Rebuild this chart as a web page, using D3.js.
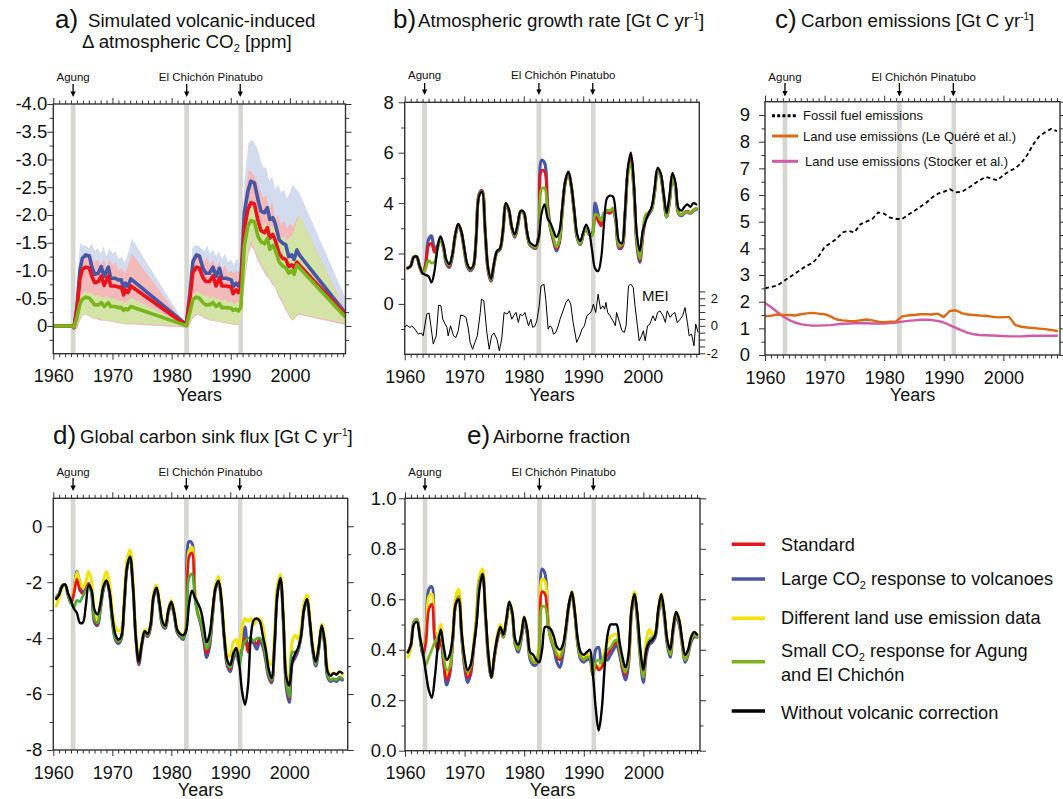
<!DOCTYPE html>
<html><head><meta charset="utf-8">
<script src="https://cdn.jsdelivr.net/npm/d3@7"></script>
<style>body{margin:0;background:#fff}</style>
</head><body>
<script>
// ---------------- DATA ----------------
const volcanoNames = ["Agung", "El Chichón", "Pinatubo"];
const volcanoArrow = [1963.35, 1982.55, 1991.6];
const volcanoBands = [[1962.95, 1963.75], [1982.15, 1982.95], [1991.3, 1992.05]];
const decadeTicks = [1960, 1970, 1980, 1990, 2000];

// panel a
const aYears = [1960,1963.4,1963.5,1964.0,1964.5,1964.9,1965.5,1966.1,1966.5,1967.0,1967.6,1968.1,1968.6,1969.3,1969.7,1970.4,1971.0,1971.5,1971.9,1972.2,1972.6,1973.1,1982.1,1982.5,1983.1,1983.6,1984.2,1984.7,1985.3,1985.8,1986.4,1987.0,1987.5,1988.1,1988.5,1989.2,1990.1,1990.4,1990.9,1991.3,1991.7,1992.3,1992.9,1993.4,1994.0,1994.6,1995.1,1995.7,1996.2,1996.6,1997.1,1997.5,1998.2,1998.8,1999.3,1999.8,2000.3,2000.7,2001.2,2001.6,2009.2];
const aLarge = [0,0,0.03,-0.35,-1.0,-1.22,-1.28,-1.26,-1.07,-0.93,-0.95,-1.07,-0.89,-1.06,-0.86,-0.86,-0.83,-0.83,-0.68,-0.77,-0.71,-0.85,-0.06,-0.04,-0.59,-1.16,-1.28,-1.26,-1.04,-0.95,-0.95,-1.06,-0.89,-1.04,-0.86,-0.86,-0.83,-0.71,-0.77,-0.72,-0.83,-2.04,-2.43,-2.61,-2.58,-2.28,-2.07,-2.04,-2.13,-1.92,-1.95,-1.85,-1.55,-1.49,-1.46,-1.25,-1.28,-1.2,-1.37,-1.28,-0.26];
const aStandard = [0,0,0.03,-0.3,-0.85,-1.02,-1.06,-1.04,-0.9,-0.78,-0.8,-0.9,-0.73,-0.9,-0.72,-0.72,-0.7,-0.7,-0.56,-0.65,-0.6,-0.72,-0.04,-0.03,-0.5,-0.97,-1.06,-1.04,-0.87,-0.8,-0.8,-0.9,-0.72,-0.87,-0.72,-0.72,-0.7,-0.58,-0.65,-0.6,-0.7,-1.75,-2.1,-2.22,-2.2,-1.9,-1.72,-1.68,-1.77,-1.58,-1.65,-1.55,-1.3,-1.22,-1.2,-1.07,-1.1,-1.05,-1.15,-1.1,-0.22];
const aSmall = [0,0,0.02,-0.15,-0.4,-0.48,-0.52,-0.5,-0.45,-0.38,-0.38,-0.42,-0.35,-0.42,-0.35,-0.35,-0.33,-0.33,-0.28,-0.31,-0.29,-0.35,-0.02,0,-0.25,-0.48,-0.52,-0.5,-0.42,-0.38,-0.38,-0.42,-0.35,-0.4,-0.33,-0.33,-0.32,-0.28,-0.3,-0.27,-0.33,-1.45,-1.8,-1.9,-1.88,-1.62,-1.52,-1.48,-1.58,-1.38,-1.45,-1.38,-1.15,-1.08,-1.05,-0.95,-1.0,-0.93,-1.1,-1.05,-0.18];
const aBandYears = [1960,1963.4,1964.0,1964.5,1965.0,1965.5,1966.0,1966.5,1967.0,1967.5,1968.0,1968.5,1969.0,1969.5,1970.0,1970.5,1971.0,1971.5,1972.0,1972.5,1973.3,1982.2,1982.5,1983.0,1983.5,1984.0,1984.5,1985.0,1985.5,1986.0,1986.5,1987.0,1987.5,1988.0,1988.5,1989.0,1989.5,1990.0,1990.5,1991.0,1991.6,1992.3,1993.0,1993.5,1994.0,1994.5,1995.0,1995.5,1996.0,1996.5,1997.0,1997.5,1998.0,1998.5,1999.0,1999.5,2000.0,2000.5,2001.2,2001.6,2009.4];
const aLargeHi = [0,0,-0.6,-1.5,-1.45,-1.45,-1.4,-1.48,-1.35,-1.4,-1.3,-1.43,-1.25,-1.4,-1.3,-1.35,-1.2,-1.25,-1.15,-1.25,-1.57,-0.05,-0.05,-0.7,-1.4,-1.45,-1.45,-1.4,-1.35,-1.45,-1.3,-1.38,-1.25,-1.35,-1.2,-1.3,-1.15,-1.2,-1.1,-1.2,-1.15,-2.6,-3.3,-3.35,-3.3,-3.2,-3.0,-2.85,-2.85,-2.6,-2.7,-2.45,-2.55,-2.4,-2.45,-2.3,-2.4,-2.55,-2.45,-2.4,-0.5];
const aStandardHi = [0,0,-0.5,-1.1,-1.25,-1.25,-1.2,-1.25,-1.15,-1.2,-1.1,-1.2,-1.05,-1.2,-1.1,-1.15,-1.0,-1.05,-0.95,-1.05,-1.3,-0.03,-0.03,-0.6,-1.2,-1.25,-1.25,-1.2,-1.15,-1.25,-1.1,-1.2,-1.05,-1.15,-1.0,-1.1,-0.95,-1.0,-0.95,-1.0,-0.95,-2.3,-2.8,-2.78,-2.7,-2.6,-2.45,-2.3,-2.35,-2.1,-2.25,-1.95,-2.0,-1.8,-1.9,-1.75,-1.85,-1.8,-1.95,-2.0,-0.28];
const aStandardLo = [0.02,0.02,0.06,-0.1,-0.2,-0.2,-0.18,-0.15,-0.12,-0.12,-0.1,-0.1,-0.1,-0.08,-0.08,-0.06,-0.05,-0.05,-0.03,-0.03,-0.03,0.03,0.05,0.0,-0.12,-0.18,-0.2,-0.18,-0.14,-0.12,-0.1,-0.1,-0.08,-0.08,-0.06,-0.06,-0.04,-0.04,-0.02,-0.02,-0.01,-0.75,-1.3,-1.45,-1.35,-1.2,-1.1,-1.0,-0.9,-0.85,-0.75,-0.7,-0.55,-0.45,-0.35,-0.25,-0.15,-0.1,-0.18,-0.2,-0.02];
const aSmallHi = [0,0,-0.25,-0.5,-0.6,-0.62,-0.6,-0.6,-0.55,-0.55,-0.55,-0.5,-0.55,-0.5,-0.5,-0.48,-0.45,-0.45,-0.42,-0.45,-0.5,-0.02,-0.02,-0.3,-0.55,-0.6,-0.62,-0.58,-0.55,-0.55,-0.5,-0.55,-0.48,-0.5,-0.45,-0.48,-0.42,-0.45,-0.4,-0.42,-0.45,-1.7,-2.05,-2.15,-2.1,-1.95,-1.85,-1.8,-1.85,-1.75,-1.8,-1.7,-1.65,-1.6,-1.6,-1.55,-1.6,-1.65,-1.9,-2.0,-0.25];
const aSmallLo = [0.02,0.02,-0.05,-0.15,-0.22,-0.2,-0.2,-0.15,-0.12,-0.15,-0.12,-0.1,-0.12,-0.08,-0.1,-0.08,-0.05,-0.07,-0.03,-0.05,-0.05,0.0,0.02,-0.05,-0.15,-0.2,-0.22,-0.2,-0.15,-0.15,-0.1,-0.12,-0.08,-0.1,-0.06,-0.08,-0.04,-0.06,-0.02,-0.05,-0.02,-0.8,-1.4,-1.55,-1.4,-1.25,-1.15,-1.05,-0.95,-0.88,-0.8,-0.72,-0.6,-0.5,-0.38,-0.28,-0.17,-0.12,-0.2,-0.22,-0.05];

// half-year grid for panels b, d, e
const gridYears = [1960.5,1961,1961.5,1962,1962.5,1963,1963.5,1964,1964.5,1965,
1965.5,1966,1966.5,1967,1967.5,1968,1968.5,1969,1969.5,1970,
1970.5,1971,1971.5,1972,1972.5,1973,1973.5,1974,1974.5,1975,
1975.5,1976,1976.5,1977,1977.5,1978,1978.5,1979,1979.5,1980,
1980.5,1981,1981.5,1982,1982.5,1983,1983.5,1984,1984.5,1985,
1985.5,1986,1986.5,1987,1987.5,1988,1988.5,1989,1989.5,1990,
1990.5,1991,1991.5,1992,1992.5,1993,1993.5,1994,1994.5,1995,
1995.5,1996,1996.5,1997,1997.5,1998,1998.5,1999,1999.5,2000,
2000.5,2001,2001.5,2002,2002.5,2003,2003.5,2004,2004.5,2005,
2005.5,2006,2006.5,2007,2007.5,2008,2008.5,2009];

// panel b: atmospheric growth rate
const growthNoCorr = [1.42,1.50,1.85,1.88,1.50,1.22,1.15,1.10,0.85,1.30,
2.20,2.68,2.35,1.75,1.58,1.95,2.75,3.18,2.90,2.25,
1.60,1.40,1.50,2.60,4.28,4.45,3.00,1.45,1.00,1.60,
2.10,2.20,2.90,4.00,3.75,3.05,2.75,3.20,3.70,3.65,
2.95,2.45,2.35,2.30,2.60,3.60,3.95,3.40,3.20,2.90,
2.65,2.90,3.90,4.90,5.25,4.70,3.70,2.75,2.50,2.85,
3.15,2.85,2.10,1.40,1.30,1.80,3.20,4.20,4.30,4.25,
3.50,2.50,2.40,3.60,5.40,6.00,4.80,2.80,2.10,2.90,
3.30,3.60,3.85,4.60,5.40,5.20,4.40,3.60,4.30,5.20,
4.80,3.80,3.70,3.85,3.95,3.85,4.00,3.95];
const growthLarge = [1.42,1.50,1.85,1.88,1.50,1.22,1.55,2.55,2.70,2.20,
2.30,2.60,2.25,1.60,1.45,1.90,2.70,3.15,2.85,2.15,
1.50,1.32,1.45,2.60,4.35,4.50,2.95,1.35,0.90,1.55,
2.05,2.15,2.85,3.95,3.70,3.00,2.65,3.10,3.65,3.60,
2.85,2.35,2.25,2.20,2.70,5.70,5.60,3.95,3.00,2.50,
2.10,2.45,3.75,4.85,5.20,4.65,3.60,2.60,2.35,2.75,
3.05,2.75,2.80,4.00,3.55,3.20,3.60,3.65,3.60,3.75,
3.25,2.20,2.25,3.45,5.25,5.80,4.60,2.40,1.65,2.70,
3.35,3.55,3.75,4.45,5.30,5.10,4.30,3.45,4.10,5.10,
4.65,3.60,3.50,3.60,3.65,3.60,3.70,3.75];
const growthStandard = [1.42,1.50,1.85,1.88,1.50,1.22,1.50,2.30,2.40,2.05,
2.25,2.60,2.28,1.65,1.50,1.92,2.72,3.15,2.87,2.18,
1.53,1.35,1.47,2.60,4.32,4.48,2.97,1.38,0.93,1.57,
2.07,2.17,2.87,3.97,3.72,3.02,2.68,3.12,3.67,3.62,
2.88,2.38,2.28,2.22,2.65,5.30,5.25,3.85,2.98,2.55,
2.18,2.50,3.78,4.87,5.22,4.67,3.63,2.63,2.38,2.78,
3.07,2.77,2.75,3.55,3.30,3.10,3.55,3.65,3.62,3.75,
3.28,2.25,2.28,3.48,5.27,5.82,4.62,2.45,1.72,2.75,
3.40,3.58,3.78,4.48,5.32,5.12,4.32,3.48,4.12,5.12,
4.68,3.62,3.52,3.62,3.68,3.62,3.72,3.78];
const growthSmall = [1.42,1.50,1.85,1.88,1.50,1.22,1.40,1.72,1.62,1.65,
2.15,2.58,2.30,1.68,1.55,1.93,2.72,3.15,2.88,2.20,
1.55,1.38,1.48,2.60,4.30,4.45,2.98,1.40,0.95,1.58,
2.08,2.18,2.88,3.97,3.72,3.03,2.70,3.13,3.67,3.62,
2.90,2.40,2.30,2.25,2.55,4.55,4.60,3.70,3.00,2.62,
2.25,2.55,3.80,4.87,5.20,4.65,3.62,2.62,2.38,2.78,
3.05,2.75,2.70,3.55,3.50,3.30,3.60,3.72,3.70,3.80,
3.30,2.30,2.35,3.50,5.15,5.60,4.55,2.50,1.80,2.85,
3.55,3.62,3.78,4.45,5.25,5.08,4.30,3.45,4.10,5.05,
4.62,3.62,3.52,3.62,3.65,3.62,3.72,3.78];
const meiYears = [1960.0,1960.3,1960.9,1961.2,1961.7,1962.3,1962.8,1963.1,1963.7,1964.1,
1964.4,1964.8,1965.3,1965.7,1966.1,1966.4,1966.8,1967.1,1967.3,1967.7,
1968.2,1968.6,1969.0,1969.4,1969.9,1970.3,1970.7,1971.0,1971.4,1971.8,
1972.2,1972.7,1972.9,1973.3,1973.8,1974.2,1974.6,1975.0,1975.5,1975.9,
1976.3,1976.7,1977.2,1977.6,1978.0,1978.3,1978.7,1979.1,1979.4,1979.8,
1980.2,1980.5,1980.8,1981.2,1981.5,1981.9,1982.2,1982.6,1982.9,1983.4,
1983.7,1984.1,1984.4,1984.7,1985.0,1985.4,1985.8,1986.1,1986.6,1987.1,
1987.5,1987.9,1988.3,1988.9,1989.4,1989.8,1990.2,1990.6,1991.0,1991.4,
1991.7,1992.1,1992.5,1992.9,1993.3,1993.6,1993.8,1994.1,1994.5,1995.0,
1995.4,1995.6,1996.1,1996.5,1996.9,1997.2,1997.6,1998.0,1998.4,1998.7,
1999.1,1999.4,1999.8,2000.1,2000.4,2000.8,2001.2,2001.7,2002.1,2002.5,
2002.9,2003.4,2003.8,2004.1,2004.6,2005.0,2005.4,2005.8,2006.3,2006.7,
2007.1,2007.5,2007.8,2008.2,2008.6,2008.9,2009.3];
const meiValues = [-0.12,0.05,-0.12,0.0,-0.24,-0.6,-0.53,-0.73,0.85,0.92,
0.0,-1.33,-0.73,1.5,1.45,0.48,0.12,-0.12,-0.73,0.0,
-0.73,-0.85,-0.36,0.78,0.73,0.61,-0.24,-1.21,-1.7,-1.21,
-0.73,0.97,1.94,1.82,-0.48,-1.7,-0.73,-0.53,-0.97,-1.82,
-0.97,0.97,0.85,1.09,0.48,0.73,0.97,0.24,0.85,0.73,
0.97,0.48,0.0,0.48,-0.12,0.0,0.36,1.45,2.9,3.03,
1.94,-0.24,0.0,-0.12,-0.6,-0.48,0.0,0.48,1.09,1.7,
1.94,1.58,0.24,-1.21,-0.73,-0.24,0.0,0.73,0.85,1.09,
1.58,0.97,2.3,1.21,1.45,1.21,1.7,0.97,0.73,0.36,
0.0,0.97,0.24,-0.36,-0.48,0.0,2.9,3.03,2.79,1.45,
0.0,-1.09,-0.73,-0.36,-1.09,0.0,0.12,0.73,0.36,0.97,
1.09,0.73,0.24,1.09,0.61,0.85,0.97,0.24,0.48,0.73,
1.33,0.24,-0.73,-0.6,-1.45,0.12,-0.48];

// panel c: emissions
const annualYears = [1960,1961,1962,1963,1964,1965,1966,1967,1968,1969,1970,1971,1972,1973,1974,1975,1976,1977,1978,1979,1980,1981,1982,1983,1984,1985,1986,1987,1988,1989,1990,1991,1992,1993,1994,1995,1996,1997,1998,1999,2000,2001,2002,2003,2004,2005,2006,2007,2008,2009];
const fossilEmissions = [2.50,2.55,2.60,2.75,2.90,3.05,3.20,3.35,3.45,3.70,
4.05,4.20,4.35,4.60,4.65,4.60,4.90,5.00,5.10,5.35,
5.30,5.15,5.10,5.10,5.25,5.40,5.55,5.70,5.90,6.05,
6.12,6.22,6.10,6.12,6.25,6.40,6.55,6.68,6.62,6.55,
6.75,6.90,7.00,7.20,7.50,7.90,8.20,8.35,8.48,8.40];
const landUseLeQuere = [1.45,1.47,1.52,1.50,1.50,1.48,1.53,1.56,1.58,1.55,
1.53,1.45,1.33,1.30,1.28,1.27,1.30,1.33,1.30,1.25,
1.23,1.25,1.26,1.45,1.48,1.50,1.53,1.53,1.52,1.55,
1.42,1.65,1.68,1.57,1.52,1.50,1.48,1.47,1.44,1.41,
1.42,1.42,1.12,1.06,1.03,1.01,0.99,0.97,0.94,0.90];
const landUseStocker = [1.95,1.80,1.62,1.45,1.32,1.22,1.16,1.12,1.10,1.10,
1.11,1.12,1.15,1.17,1.18,1.19,1.19,1.19,1.18,1.18,
1.18,1.20,1.22,1.25,1.28,1.30,1.32,1.32,1.31,1.28,
1.22,1.12,1.02,0.92,0.83,0.78,0.75,0.74,0.73,0.72,
0.71,0.70,0.70,0.70,0.71,0.72,0.72,0.72,0.72,0.72];

// panel d: global sink flux
const sinkNoCorr = [-2.60,-2.45,-2.15,-2.08,-2.40,-2.65,-2.95,-3.10,-3.45,-3.45,
-2.85,-2.10,-2.30,-3.00,-3.15,-2.75,-2.15,-1.95,-2.30,-3.20,
-3.85,-4.05,-3.95,-2.80,-1.45,-1.10,-2.10,-4.00,-4.85,-4.20,
-3.75,-3.85,-3.50,-2.50,-2.20,-2.75,-3.40,-3.55,-3.00,-2.70,
-3.10,-3.70,-3.85,-3.90,-3.75,-2.80,-2.30,-2.55,-2.75,-3.00,
-3.55,-4.15,-3.85,-3.00,-2.20,-1.95,-2.60,-4.00,-4.80,-4.95,
-4.55,-4.35,-4.90,-5.90,-6.38,-5.70,-3.90,-3.35,-3.30,-3.40,
-3.90,-4.40,-5.10,-5.43,-4.20,-2.40,-1.85,-3.30,-5.40,-5.70,
-4.85,-4.55,-4.35,-3.90,-2.95,-2.60,-3.40,-4.40,-4.85,-4.30,
-3.55,-4.10,-5.20,-5.35,-5.25,-5.30,-5.20,-5.25];
const sinkLarge = [-2.55,-2.40,-2.12,-2.10,-2.45,-2.75,-2.30,-1.62,-2.05,-2.40,
-2.25,-2.05,-2.40,-3.45,-3.55,-2.95,-2.25,-1.95,-2.35,-3.40,
-4.05,-4.20,-4.05,-2.90,-1.50,-1.10,-2.15,-4.05,-4.95,-4.25,
-3.85,-3.95,-3.60,-2.55,-2.25,-2.85,-3.55,-3.65,-3.10,-2.80,
-3.20,-3.80,-3.95,-4.05,-3.60,-0.55,-0.60,-2.40,-3.10,-3.50,
-4.10,-4.70,-4.30,-3.20,-2.25,-2.00,-2.80,-4.10,-5.00,-5.20,
-4.75,-4.55,-4.90,-4.20,-3.60,-4.30,-4.10,-4.20,-4.40,-4.10,
-4.30,-4.80,-5.40,-5.60,-4.30,-2.40,-1.95,-3.50,-5.80,-6.30,
-4.90,-4.70,-4.45,-3.95,-3.00,-2.65,-3.50,-4.50,-5.00,-4.40,
-3.65,-4.25,-5.40,-5.55,-5.50,-5.55,-5.45,-5.50];
const sinkStandard = [-2.55,-2.40,-2.12,-2.10,-2.45,-2.75,-2.40,-1.90,-2.30,-2.40,
-2.25,-2.05,-2.38,-3.40,-3.50,-2.92,-2.22,-1.95,-2.33,-3.35,
-4.00,-4.15,-4.00,-2.88,-1.48,-1.08,-2.13,-4.02,-4.90,-4.22,
-3.82,-3.92,-3.57,-2.52,-2.22,-2.82,-3.50,-3.62,-3.07,-2.77,
-3.17,-3.77,-3.92,-4.00,-3.65,-1.10,-0.95,-2.50,-3.15,-3.50,
-4.05,-4.55,-4.20,-3.15,-2.22,-1.98,-2.78,-4.05,-4.95,-5.10,
-4.65,-4.45,-4.85,-4.40,-4.00,-4.50,-4.10,-4.10,-4.20,-4.00,
-4.20,-4.75,-5.35,-5.55,-4.25,-2.35,-1.92,-3.45,-5.70,-6.15,
-4.80,-4.60,-4.40,-3.90,-2.98,-2.62,-3.47,-4.45,-4.95,-4.35,
-3.60,-4.20,-5.35,-5.50,-5.45,-5.50,-5.40,-5.45];
const sinkLandUse = [-2.85,-2.55,-2.20,-2.10,-2.40,-2.70,-2.30,-1.65,-2.00,-2.20,
-2.00,-1.62,-2.00,-3.10,-3.30,-2.70,-1.95,-1.62,-2.00,-3.00,
-3.60,-3.75,-3.70,-2.60,-1.20,-0.85,-1.90,-3.90,-4.80,-4.10,
-3.70,-3.80,-3.45,-2.40,-2.10,-2.70,-3.40,-3.55,-2.95,-2.65,
-3.05,-3.65,-3.85,-3.95,-3.50,-0.90,-0.75,-2.30,-3.00,-3.30,
-3.90,-4.35,-4.00,-3.00,-2.10,-1.80,-2.60,-3.80,-4.55,-4.65,
-4.15,-4.05,-4.40,-3.60,-3.30,-3.40,-3.30,-3.50,-3.35,-3.30,
-3.55,-4.30,-4.85,-4.95,-3.80,-2.10,-1.72,-3.20,-5.20,-5.55,
-4.10,-3.90,-4.05,-3.65,-2.75,-2.45,-3.30,-4.30,-4.80,-4.25,
-3.50,-4.00,-5.10,-5.30,-5.25,-5.30,-5.20,-5.30];
const sinkSmall = [-2.55,-2.40,-2.12,-2.10,-2.45,-2.75,-2.90,-2.65,-2.70,-2.50,
-2.30,-2.10,-2.38,-3.35,-3.45,-2.90,-2.22,-1.95,-2.33,-3.35,
-4.00,-4.12,-4.00,-2.88,-1.48,-1.08,-2.13,-4.00,-4.85,-4.20,
-3.80,-3.90,-3.55,-2.52,-2.22,-2.82,-3.50,-3.60,-3.05,-2.75,
-3.15,-3.75,-3.90,-4.00,-3.70,-1.85,-1.70,-2.60,-3.15,-3.45,
-3.95,-4.40,-4.10,-3.10,-2.20,-1.98,-2.78,-4.00,-4.90,-5.05,
-4.60,-4.50,-5.00,-4.40,-4.10,-4.00,-4.00,-4.10,-4.00,-4.00,
-4.15,-4.70,-5.30,-5.50,-4.20,-2.30,-1.90,-3.45,-5.60,-6.10,
-4.50,-4.50,-4.40,-3.90,-2.98,-2.62,-3.47,-4.45,-4.95,-4.35,
-3.60,-4.20,-5.35,-5.50,-5.45,-5.50,-5.40,-5.45];

// panel e: airborne fraction
const afNoCorr = [0.39,0.42,0.50,0.51,0.45,0.39,0.31,0.24,0.21,0.29,
0.41,0.48,0.41,0.36,0.38,0.45,0.58,0.60,0.47,0.37,
0.32,0.34,0.41,0.50,0.64,0.70,0.55,0.38,0.29,0.38,
0.45,0.49,0.46,0.52,0.59,0.55,0.44,0.42,0.46,0.53,
0.48,0.39,0.38,0.36,0.35,0.40,0.49,0.49,0.48,0.45,
0.41,0.40,0.42,0.49,0.58,0.63,0.55,0.44,0.39,0.38,
0.39,0.40,0.31,0.17,0.08,0.16,0.33,0.46,0.50,0.50,
0.50,0.43,0.37,0.33,0.38,0.56,0.62,0.54,0.40,0.32,
0.40,0.43,0.44,0.46,0.56,0.62,0.55,0.44,0.40,0.49,
0.55,0.52,0.44,0.38,0.40,0.45,0.47,0.46];
const afLarge = [0.39,0.42,0.51,0.52,0.45,0.38,0.45,0.64,0.65,0.45,
0.40,0.44,0.34,0.26,0.30,0.43,0.58,0.61,0.45,0.33,
0.27,0.30,0.40,0.52,0.68,0.70,0.53,0.36,0.29,0.37,
0.44,0.48,0.45,0.51,0.58,0.54,0.42,0.39,0.44,0.51,
0.46,0.36,0.34,0.34,0.40,0.72,0.70,0.52,0.44,0.40,
0.35,0.33,0.38,0.47,0.57,0.62,0.54,0.42,0.36,0.35,
0.36,0.36,0.30,0.40,0.41,0.33,0.36,0.36,0.38,0.40,
0.42,0.38,0.32,0.28,0.34,0.54,0.61,0.51,0.36,0.27,
0.38,0.42,0.43,0.45,0.54,0.60,0.53,0.42,0.37,0.47,
0.53,0.50,0.42,0.35,0.38,0.43,0.45,0.45];
const afStandard = [0.39,0.42,0.51,0.52,0.45,0.38,0.43,0.56,0.58,0.44,
0.40,0.44,0.35,0.28,0.31,0.43,0.58,0.61,0.46,0.34,
0.29,0.31,0.40,0.52,0.67,0.70,0.54,0.37,0.29,0.37,
0.44,0.48,0.45,0.51,0.58,0.54,0.42,0.40,0.45,0.52,
0.47,0.37,0.35,0.35,0.40,0.63,0.62,0.50,0.44,0.41,
0.37,0.36,0.40,0.48,0.58,0.62,0.54,0.42,0.37,0.36,
0.37,0.37,0.30,0.34,0.32,0.33,0.36,0.38,0.40,0.42,
0.43,0.39,0.33,0.30,0.35,0.55,0.62,0.52,0.37,0.29,
0.40,0.43,0.44,0.46,0.55,0.61,0.54,0.43,0.38,0.48,
0.54,0.51,0.43,0.36,0.39,0.44,0.46,0.45];
const afLandUse = [0.37,0.41,0.51,0.52,0.46,0.40,0.44,0.61,0.62,0.47,
0.46,0.50,0.38,0.30,0.33,0.46,0.61,0.64,0.48,0.35,
0.30,0.33,0.42,0.54,0.69,0.72,0.55,0.38,0.30,0.38,
0.46,0.50,0.47,0.52,0.59,0.55,0.43,0.41,0.46,0.53,
0.48,0.38,0.36,0.36,0.42,0.68,0.67,0.51,0.45,0.42,
0.39,0.38,0.41,0.49,0.58,0.63,0.55,0.43,0.38,0.37,
0.38,0.38,0.31,0.33,0.33,0.34,0.40,0.43,0.45,0.46,
0.46,0.42,0.34,0.31,0.36,0.56,0.63,0.53,0.38,0.30,
0.44,0.48,0.46,0.47,0.56,0.62,0.55,0.44,0.39,0.49,
0.55,0.52,0.43,0.36,0.39,0.45,0.47,0.46];
const afSmall = [0.39,0.42,0.51,0.52,0.45,0.38,0.34,0.37,0.40,0.43,
0.45,0.46,0.37,0.32,0.33,0.44,0.58,0.61,0.46,0.35,
0.31,0.33,0.41,0.52,0.67,0.70,0.54,0.37,0.29,0.37,
0.45,0.48,0.45,0.51,0.58,0.54,0.42,0.40,0.45,0.52,
0.47,0.37,0.35,0.35,0.40,0.57,0.57,0.49,0.44,0.41,
0.38,0.37,0.40,0.48,0.58,0.62,0.54,0.42,0.37,0.36,
0.37,0.37,0.30,0.35,0.36,0.35,0.38,0.40,0.41,0.43,
0.44,0.40,0.34,0.31,0.36,0.55,0.62,0.52,0.37,0.29,
0.41,0.44,0.45,0.46,0.55,0.61,0.54,0.43,0.38,0.48,
0.54,0.51,0.43,0.36,0.39,0.44,0.46,0.45];

// ---------------- STYLE ----------------
const FONT = "'Liberation Sans', Arial, Helvetica, sans-serif";
const C = {red:"#e8131b", blue:"#4757a6", yellow:"#f4e200", green:"#7ab51d", greenD:"#4aae38", black:"#000",
  gray:"#d6d6d2", bandBlue:"#d3dbef", bandPink:"#f4baba", bandGreen:"#d3e4a6", orange:"#dd6a12", pink:"#d05aa8"};

const svg = d3.select("body").append("svg").attr("width",1063).attr("height",799).style("font-family",FONT);
const defs = svg.append("defs");
const zip = (xs, ys) => xs.map((v,i)=>[v, ys[i]]);

function makePanel(id, x, y) {
  const [xl,xr] = x.range(), [yb,yt] = y.range();
  defs.append("clipPath").attr("id",id).append("rect").attr("x",xl).attr("y",yt).attr("width",xr-xl).attr("height",yb-yt);
  const g = svg.append("g");
  const plot = g.append("g").attr("clip-path",`url(#${id})`);
  return {g, plot, xl, xr, yb, yt, x, y};
}

function styleAxis(s, fs) {
  s.select(".domain").remove();
  s.selectAll("line").attr("stroke","#333").attr("stroke-width",1);
  s.selectAll("text").attr("font-size",fs||18).attr("fill","#111").attr("font-family",FONT);
}

function frame(P, o) {
  const {g, x, y} = P;
  const xMinor = d3.range(1961, 2010).filter(v => v % 10 !== 0 && v < x.domain()[1]);
  g.append("g").attr("transform",`translate(0,${P.yb})`).call(d3.axisBottom(x).tickValues(decadeTicks).tickSize(6).tickPadding(10).tickFormat(d3.format("d"))).call(styleAxis);
  g.append("g").attr("transform",`translate(0,${P.yb})`).call(d3.axisBottom(x).tickValues(xMinor).tickSize(3.5).tickFormat("")).call(styleAxis);
  g.append("g").attr("transform",`translate(0,${P.yt})`).call(d3.axisTop(x).tickValues(decadeTicks).tickSize(6).tickFormat("")).call(styleAxis);
  g.append("g").attr("transform",`translate(0,${P.yt})`).call(d3.axisTop(x).tickValues(xMinor).tickSize(3.5).tickFormat("")).call(styleAxis);
  g.append("g").attr("transform",`translate(${P.xl},0)`).call(d3.axisLeft(y).tickValues(o.yMajor).tickSize(6).tickPadding(o.pad).tickFormat(o.fmt)).call(s => styleAxis(s, 18.5));
  g.append("g").attr("transform",`translate(${P.xl},0)`).call(d3.axisLeft(y).tickValues(o.yMinor).tickSize(3.5).tickFormat("")).call(styleAxis);
  if (o.rightMajor) {
    g.append("g").attr("transform",`translate(${P.xr},0)`).call(d3.axisRight(y).tickValues(o.rightMajor).tickSize(o.rightSize||6).tickFormat("")).call(styleAxis);
  }
  if (o.rightMinor) {
    g.append("g").attr("transform",`translate(${P.xr},0)`).call(d3.axisRight(y).tickValues(o.rightMinor).tickSize(3.5).tickFormat("")).call(styleAxis);
  }
  g.append("rect").attr("x",P.xl).attr("y",P.yt).attr("width",P.xr-P.xl).attr("height",P.yb-P.yt)
    .attr("fill","none").attr("stroke","#333").attr("stroke-width",1.4);
  g.append("text").attr("x",(P.xl+P.xr)/2).attr("y",o.yearsY).attr("text-anchor","middle").attr("font-size",18).attr("fill","#111").text("Years");
}

function volcanoes(P, labelY, arrowTop, arrowTip) {
  const x = P.x;
  volcanoBands.forEach((b,i) => {
    P.plot.append("rect").attr("x",x(b[0])).attr("y",P.yt).attr("width",x(b[1])-x(b[0])).attr("height",P.yb-P.yt).attr("fill",C.gray);
    const ax = x(volcanoArrow[i]);
    P.g.append("text").attr("x",ax).attr("y",labelY).attr("text-anchor","middle").attr("font-size",11.5).attr("fill","#111").text(volcanoNames[i]);
    P.g.append("line").attr("x1",ax).attr("x2",ax).attr("y1",arrowTop).attr("y2",arrowTip-3).attr("stroke","#000").attr("stroke-width",1.3);
    P.g.append("path").attr("d",`M${ax-2.6},${arrowTip-5.5}L${ax+2.6},${arrowTip-5.5}L${ax},${arrowTip}Z`).attr("fill","#000");
  });
}

function richText(x, y, size, parts, anchor) {
  const t = svg.append("text").attr("x",x).attr("y",y).attr("font-size",size).attr("fill","#111").attr("text-anchor",anchor||"start");
  parts.forEach(p => {
    const s = t.append("tspan").text(p.t);
    if (p.dy) s.attr("dy",p.dy);
    if (p.fs) s.attr("font-size",p.fs);
  });
  return t;
}

function drawLine(P, data, color, width, curve, dash) {
  const line = d3.line().x(d=>P.x(d[0])).y(d=>P.y(d[1])).curve(curve || d3.curveLinear);
  const p = P.plot.append("path").datum(data).attr("d",line).attr("fill","none").attr("stroke",color)
    .attr("stroke-width",width).attr("stroke-linejoin","round").attr("stroke-linecap","round");
  if (dash) p.attr("stroke-dasharray",dash).attr("stroke-linecap","butt");
  return p;
}
function drawBand(P, xs, lo, hi, color) {
  const area = d3.area().x(d=>P.x(d[0])).y0(d=>P.y(d[1])).y1(d=>P.y(d[2]));
  P.plot.append("path").datum(xs.map((v,i)=>[v,lo[i],hi[i]])).attr("d",area).attr("fill",color).attr("stroke","none");
}
const smooth = d3.curveCatmullRom.alpha(0.5);

// ---------------- PANEL A ----------------
{
  const x = d3.scaleLinear().domain([1960, 2009.4]).range([53.3, 345.5]);
  const y = d3.scaleLinear().domain([0.5, -4]).range([353.7, 104]);
  const P = makePanel("clipA", x, y);
  volcanoes(P, 81, 84, 97);
  drawBand(P, aBandYears, aStandardLo, aLargeHi, C.bandBlue);
  drawBand(P, aBandYears, aStandardLo, aStandardHi, C.bandPink);
  drawBand(P, aBandYears, aSmallLo, aSmallHi, C.bandGreen);
  drawLine(P, zip(aYears, aLarge), C.blue, 3.6);
  drawLine(P, zip(aYears, aStandard), C.red, 3.6);
  drawLine(P, zip(aYears, aSmall), C.green, 3.6);
  frame(P, {yMajor: d3.range(-4, 0.01, 0.5), yMinor: d3.range(-3.75, 0.3, 0.5), pad: 0,
    fmt: d => Math.abs(d) < 1e-9 ? "0" : d.toFixed(1),
    rightMajor: d3.range(-4, 0.01, 0.5), rightMinor: d3.range(-3.75, 0.3, 0.5), yearsY: 401});
  richText(55, 28, 26, [{t:"a)"}]);
  richText(88, 27, 18.7, [{t:"Simulated volcanic-induced"}]);
  richText(82, 48, 18.7, [{t:"\u0394 atmospheric CO"},{t:"2",dy:4,fs:11},{t:" [ppm]",dy:-4}]);
}

// ---------------- PANEL B ----------------
{
  const x = d3.scaleLinear().domain([1960, 2009.5]).range([404.7, 699.3]);
  const y = d3.scaleLinear().domain([-2, 8]).range([354.3, 102.3]);
  const P = makePanel("clipB", x, y);
  volcanoes(P, 79, 83, 95);
  const mei = d3.scaleLinear().domain([-2, 2]).range([353.3, 298.3]);
  P.plot.append("path").datum(zip(meiYears, meiValues))
    .attr("d", d3.line().x(d=>x(d[0])).y(d=>mei(d[1])))
    .attr("fill","none").attr("stroke","#000").attr("stroke-width",1);
  drawLine(P, zip(gridYears, growthLarge), C.blue, 3.2, smooth);
  drawLine(P, zip(gridYears, growthStandard), C.red, 2.8, smooth);
  drawLine(P, zip(gridYears, growthSmall), C.green, 2.8, smooth);
  drawLine(P, zip(gridYears, growthNoCorr), C.black, 2.2, smooth);
  frame(P, {yMajor:[0,2,4,6,8], yMinor:[-1,1,3,5,7], pad:5, fmt:d3.format("d"), yearsY:401});
  P.g.append("g").attr("transform",`translate(${P.xr},0)`)
    .call(d3.axisRight(mei).tickValues(d3.range(-2, 2.51, 0.5)).tickSize(6).tickFormat("")).call(styleAxis);
  [[2,"2"],[0,"0"],[-2,"-2"]].forEach(([v,l]) => {
    P.g.append("text").attr("x",718).attr("y",mei(v)).attr("dy","0.35em").attr("text-anchor","end").attr("font-size",13).attr("fill","#111").text(l);
  });
  P.g.append("text").attr("x",642).attr("y",300.5).attr("font-size",15).attr("fill","#111").text("MEI");
  richText(393, 28, 26, [{t:"b)"}]);
  richText(418, 27, 18.7, [{t:"Atmospheric growth rate [Gt C yr"},{t:"-1",dy:-7,fs:10},{t:"]",dy:7}]);
}

// ---------------- PANEL C ----------------
{
  const x = d3.scaleLinear().domain([1960, 2009.5]).range([765, 1060]);
  const y = d3.scaleLinear().domain([0, 9.5]).range([355, 101.7]);
  const P = makePanel("clipC", x, y);
  volcanoes(P, 81, 83, 96.5);
  drawLine(P, zip(annualYears, landUseStocker), C.pink, 2.4);
  drawLine(P, zip(annualYears, landUseLeQuere), C.orange, 2.4);
  drawLine(P, zip(annualYears, fossilEmissions), C.black, 1.8, d3.curveLinear, "4,3");
  frame(P, {yMajor:d3.range(0,10,1), yMinor:d3.range(0.5,9,1), pad:9, fmt:d3.format("d"),
    rightMajor:d3.range(0,9.6,0.5), rightSize:4, yearsY:401});
  const lg = [
    {y:115.7, c:C.black, dash:"3,2.2", t:"Fossil fuel emissions", tx:803},
    {y:136, c:C.orange, t:"Land use emissions (Le Quéré et al.)", tx:803},
    {y:161.3, c:C.pink, t:"Land use emissions (Stocker et al.)", tx:805}
  ];
  lg.forEach(d => {
    const l = P.g.append("line").attr("x1",772).attr("x2",798).attr("y1",d.y).attr("y2",d.y).attr("stroke",d.c).attr("stroke-width",3);
    if (d.dash) l.attr("stroke-dasharray",d.dash);
    P.g.append("text").attr("x",d.tx).attr("y",d.y+4.5).attr("font-size",13).attr("fill","#111").text(d.t);
  });
  richText(775, 28, 26, [{t:"c)"}]);
  richText(801, 27, 18.7, [{t:"Carbon emissions [Gt C yr"},{t:"-1",dy:-7,fs:10},{t:"]",dy:7}]);
}

// ---------------- PANEL D ----------------
{
  const x = d3.scaleLinear().domain([1960, 2009.9]).range([53.3, 347.7]);
  const y = d3.scaleLinear().domain([-8, 1]).range([750, 498.3]);
  const P = makePanel("clipD", x, y);
  volcanoes(P, 476, 478, 491);
  drawLine(P, zip(gridYears, sinkLarge), C.blue, 3, smooth);
  drawLine(P, zip(gridYears, sinkLandUse), C.yellow, 3, smooth);
  drawLine(P, zip(gridYears, sinkStandard), C.red, 2.6, smooth);
  drawLine(P, zip(gridYears, sinkSmall), C.greenD, 2.6, smooth);
  drawLine(P, zip(gridYears, sinkNoCorr), C.black, 2.4, smooth);
  frame(P, {yMajor:[-8,-6,-4,-2,0], yMinor:[-7,-5,-3,-1], pad:5, fmt:d=>String(d),
    rightMajor:[-8,-6,-4,-2,0], rightMinor:[-7,-5,-3,-1], yearsY:796});
  richText(53, 444, 26, [{t:"d)"}]);
  richText(80, 443, 18.7, [{t:"Global carbon sink flux [Gt C yr"},{t:"-1",dy:-7,fs:10},{t:"]",dy:7}]);
}

// ---------------- PANEL E ----------------
{
  const x = d3.scaleLinear().domain([1960, 2009.5]).range([405, 700]);
  const y = d3.scaleLinear().domain([0, 1]).range([750.7, 498.3]);
  const P = makePanel("clipE", x, y);
  volcanoes(P, 476, 478, 491);
  drawLine(P, zip(gridYears, afLarge), C.blue, 3, smooth);
  drawLine(P, zip(gridYears, afLandUse), C.yellow, 3, smooth);
  drawLine(P, zip(gridYears, afStandard), C.red, 2.6, smooth);
  drawLine(P, zip(gridYears, afSmall), C.green, 2.6, smooth);
  drawLine(P, zip(gridYears, afNoCorr), C.black, 2.4, smooth);
  frame(P, {yMajor:[0,0.2,0.4,0.6,0.8,1.0], yMinor:[0.1,0.3,0.5,0.7,0.9], pad:2.5, fmt:d3.format(".1f"),
    rightMajor:[0,0.2,0.4,0.6,0.8,1.0], rightMinor:[0.1,0.3,0.5,0.7,0.9], yearsY:796});
  richText(467, 444, 26, [{t:"e)"}]);
  richText(493, 443, 18.7, [{t:"Airborne fraction"}]);
}

// ---------------- LEGEND ----------------
{
  const items = [
    {y:544.3, c:C.red, lines:[[{t:"Standard"}]], ty:[550.5]},
    {y:579, c:C.blue, lines:[[{t:"Large CO"},{t:"2",dy:3.5,fs:11},{t:" response to volcanoes",dy:-3.5}]], ty:[585]},
    {y:618.3, c:C.yellow, lines:[[{t:"Different land use emission data"}]], ty:[624.3]},
    {y:661.7, c:C.green, lines:[[{t:"Small CO"},{t:"2",dy:3.5,fs:11},{t:" response for Agung",dy:-3.5}],[{t:"and El Chichón"}]], ty:[657,681]},
    {y:711, c:C.black, lines:[[{t:"Without volcanic correction"}]], ty:[719]}
  ];
  items.forEach(it => {
    svg.append("line").attr("x1",731.7).attr("x2",765).attr("y1",it.y).attr("y2",it.y).attr("stroke",it.c).attr("stroke-width",3.4);
    it.lines.forEach((parts,i) => richText(781, it.ty[i], 18.2, parts));
  });
}
</script>
</body></html>
